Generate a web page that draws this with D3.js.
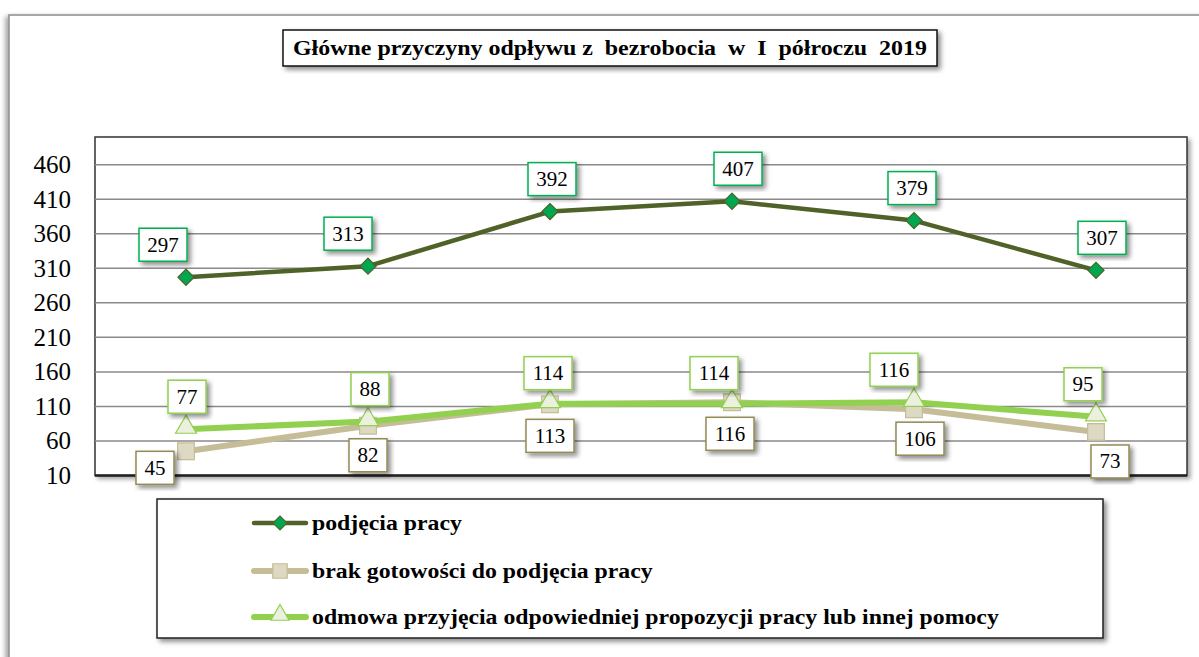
<!DOCTYPE html>
<html>
<head>
<meta charset="utf-8">
<script src="https://cdn.jsdelivr.net/npm/d3@7"></script>
<style>
  body { margin: 0; background: #fff; }
</style>
</head>
<body>
<div id="chart"></div>
<script>
var categories = ['I', 'II', 'III', 'IV', 'V', 'VI'];
var podjeciaPracy = [297, 313, 392, 407, 379, 307];
var brakGotowosci = [45, 82, 113, 116, 106, 73];
var odmowa = [77, 88, 114, 114, 116, 95];
var yTicks = [10, 60, 110, 160, 210, 260, 310, 360, 410, 460];
var seriesNames = ['podjęcia pracy', 'brak gotowości do podjęcia pracy',
    'odmowa przyjęcia odpowiedniej propozycji pracy lub innej pomocy'];
var title = 'Główne przyczyny odpływu z  bezrobocia  w  I  półroczu  2019';

// label nudges (layout only), [dx, dy] per point
var nudge1 = [[-23, 0], [-20, 0], [2, 0], [6, 0], [-2, 0], [6, 0]];
var nudge2 = [[-31, -13], [0, 0], [0, 2], [-2, 2], [6, 0], [14, 0]];
var nudge3 = [[1, 0], [2, 0], [-2, 2], [-18, 2], [-20, 0], [-13, 0]];

var FONT = "'Liberation Serif', 'Times New Roman', Times, serif";
var W = 1199, H = 657;
var plot = { left: 95, top: 137, right: 1187, bottom: 475.5 };

var svg = d3.select('#chart').append('svg').attr('width', W).attr('height', H)
    .style('font-family', FONT);
var defs = svg.append('defs');
function shadow(id, dx, dy, sd, op) {
    var f = defs.append('filter').attr('id', id)
        .attr('x', '-20%').attr('y', '-20%').attr('width', '140%').attr('height', '140%');
    f.append('feDropShadow').attr('dx', dx).attr('dy', dy)
        .attr('stdDeviation', sd).attr('flood-color', '#000').attr('flood-opacity', op);
}
shadow('sh', 3, 3, 2.5, 0.45);
shadow('shOuter', -3, 2, 2.5, 0.35);
shadow('shPlot', 3, 3, 2, 0.35);

// outer chart area
svg.append('rect').attr('x', 9).attr('y', 15).attr('width', W + 20).attr('height', H + 20)
    .attr('fill', '#fff').attr('stroke', '#8c8c8c').attr('stroke-width', 1.5)
    .attr('filter', 'url(#shOuter)');

var x = d3.scaleBand().domain(categories).range([plot.left, plot.right]);
var y = d3.scaleLinear().domain([10, 500]).range([plot.bottom, plot.top]);
function px(i) { return x(categories[i]) + x.bandwidth() / 2; }

// plot area
svg.append('rect').attr('x', plot.left).attr('y', plot.top)
    .attr('width', plot.right - plot.left).attr('height', plot.bottom - plot.top)
    .attr('fill', '#fff').attr('stroke', '#333').attr('stroke-width', 1.5)
    .attr('filter', 'url(#shPlot)');

svg.append('g').selectAll('line').data(yTicks.filter(function (t) { return t > 10; }))
    .enter().append('line')
    .attr('x1', plot.left).attr('x2', plot.right)
    .attr('y1', function (d) { return y(d); }).attr('y2', function (d) { return y(d); })
    .attr('stroke', '#8a8a8a').attr('stroke-width', 1.5);

svg.append('line').attr('x1', plot.left).attr('x2', plot.right)
    .attr('y1', plot.bottom).attr('y2', plot.bottom)
    .attr('stroke', '#222').attr('stroke-width', 2.5);

// y axis labels
var yAxis = d3.axisLeft(y).tickValues(yTicks).tickSize(0).tickPadding(0);
var ya = svg.append('g').attr('transform', 'translate(71,0)').call(yAxis);
ya.select('.domain').remove();
ya.attr('font-family', null).attr('font-size', null);
ya.selectAll('text').style('font-family', FONT).style('font-size', '25px').attr('fill', '#000');

// title
var tg = svg.append('g');
tg.append('rect').attr('x', 283).attr('y', 30).attr('width', 654).attr('height', 36)
    .attr('fill', '#fff').attr('stroke', '#111').attr('stroke-width', 1.5)
    .attr('filter', 'url(#sh)');
tg.append('text').attr('x', 293).attr('y', 55)
    .style('font-family', FONT).style('font-size', '22px').style('font-weight', 'bold')
    .style('white-space', 'pre')
    .attr('textLength', 634).attr('lengthAdjust', 'spacingAndGlyphs')
    .text(title);

var series = [
    { values: podjeciaPracy, line: '#4f6228', width: 4.5, fill: '#00a650', stroke: '#4f6228',
      shape: d3.symbolSquare, rot: 45, size: 130, label: '#00b050', pos: 'above', nudge: nudge1 },
    { values: brakGotowosci, line: '#c4bd97', width: 6, fill: '#ddd9c3', stroke: '#c4bd97',
      shape: d3.symbolSquare, rot: 0, size: 280, label: '#948a54', pos: 'below', nudge: nudge2 },
    { values: odmowa, line: '#92d050', width: 6, fill: '#ebf1de', stroke: '#92d050',
      shape: d3.symbolTriangle, rot: 0, size: 190, label: '#92d050', pos: 'above', nudge: nudge3 }
];

var line = d3.line().x(function (d, i) { return px(i); }).y(function (d) { return y(d); });

series.forEach(function (s) {
    var g = svg.append('g');
    g.append('path').attr('d', line(s.values)).attr('fill', 'none')
        .attr('stroke', s.line).attr('stroke-width', s.width).attr('stroke-linejoin', 'round');
    g.selectAll('path.m').data(s.values).enter().append('path').attr('class', 'm')
        .attr('transform', function (d, i) {
            var dy = s.shape === d3.symbolTriangle ? -2 : 0;
            return 'translate(' + px(i) + ',' + (y(d) + dy) + ') rotate(' + s.rot + ')';
        })
        .attr('d', d3.symbol().type(s.shape).size(s.size))
        .attr('fill', s.fill).attr('stroke', s.stroke).attr('stroke-width', 1.2);
});

// data labels
series.forEach(function (s) {
    var g = svg.append('g');
    s.values.forEach(function (v, i) {
        var txt = String(v);
        var w = txt.length === 3 ? 48 : 38, h = 33;
        var cx = px(i) + s.nudge[i][0];
        var top = s.pos === 'above' ? y(v) - 16 - h : y(v) + 13;
        top += s.nudge[i][1];
        g.append('rect').attr('x', cx - w / 2).attr('y', top).attr('width', w).attr('height', h)
            .attr('fill', '#fff').attr('stroke', s.label).attr('stroke-width', 1.5)
            .attr('filter', 'url(#sh)');
        g.append('text').attr('x', cx).attr('y', top + h / 2 + 7).attr('text-anchor', 'middle')
            .style('font-family', FONT).style('font-size', '21px').attr('fill', '#000').text(txt);
    });
});

// legend
var lg = svg.append('g');
lg.append('rect').attr('x', 157).attr('y', 499).attr('width', 946).attr('height', 139)
    .attr('fill', '#fff').attr('stroke', '#222').attr('stroke-width', 1.5)
    .attr('filter', 'url(#sh)');
var rowY = [523, 571, 617];
series.forEach(function (s, k) {
    var row = lg.append('g').attr('transform', 'translate(0,' + rowY[k] + ')');
    row.append('line').attr('x1', 254).attr('x2', 306).attr('y1', 0).attr('y2', 0)
        .attr('stroke', s.line).attr('stroke-width', s.width).attr('stroke-linecap', 'round');
    row.append('path')
        .attr('transform', 'translate(280,' + (s.shape === d3.symbolTriangle ? -2 : 0) + ') rotate(' + s.rot + ')')
        .attr('d', d3.symbol().type(s.shape).size(s.size * 0.75))
        .attr('fill', s.fill).attr('stroke', s.stroke).attr('stroke-width', 1.2);
    row.append('text').attr('transform', 'translate(312,7) scale(1.16,1)')
        .style('font-family', FONT).style('font-size', '20.5px').style('font-weight', 'bold')
        .text(seriesNames[k]);
});
</script>
</body>
</html>
